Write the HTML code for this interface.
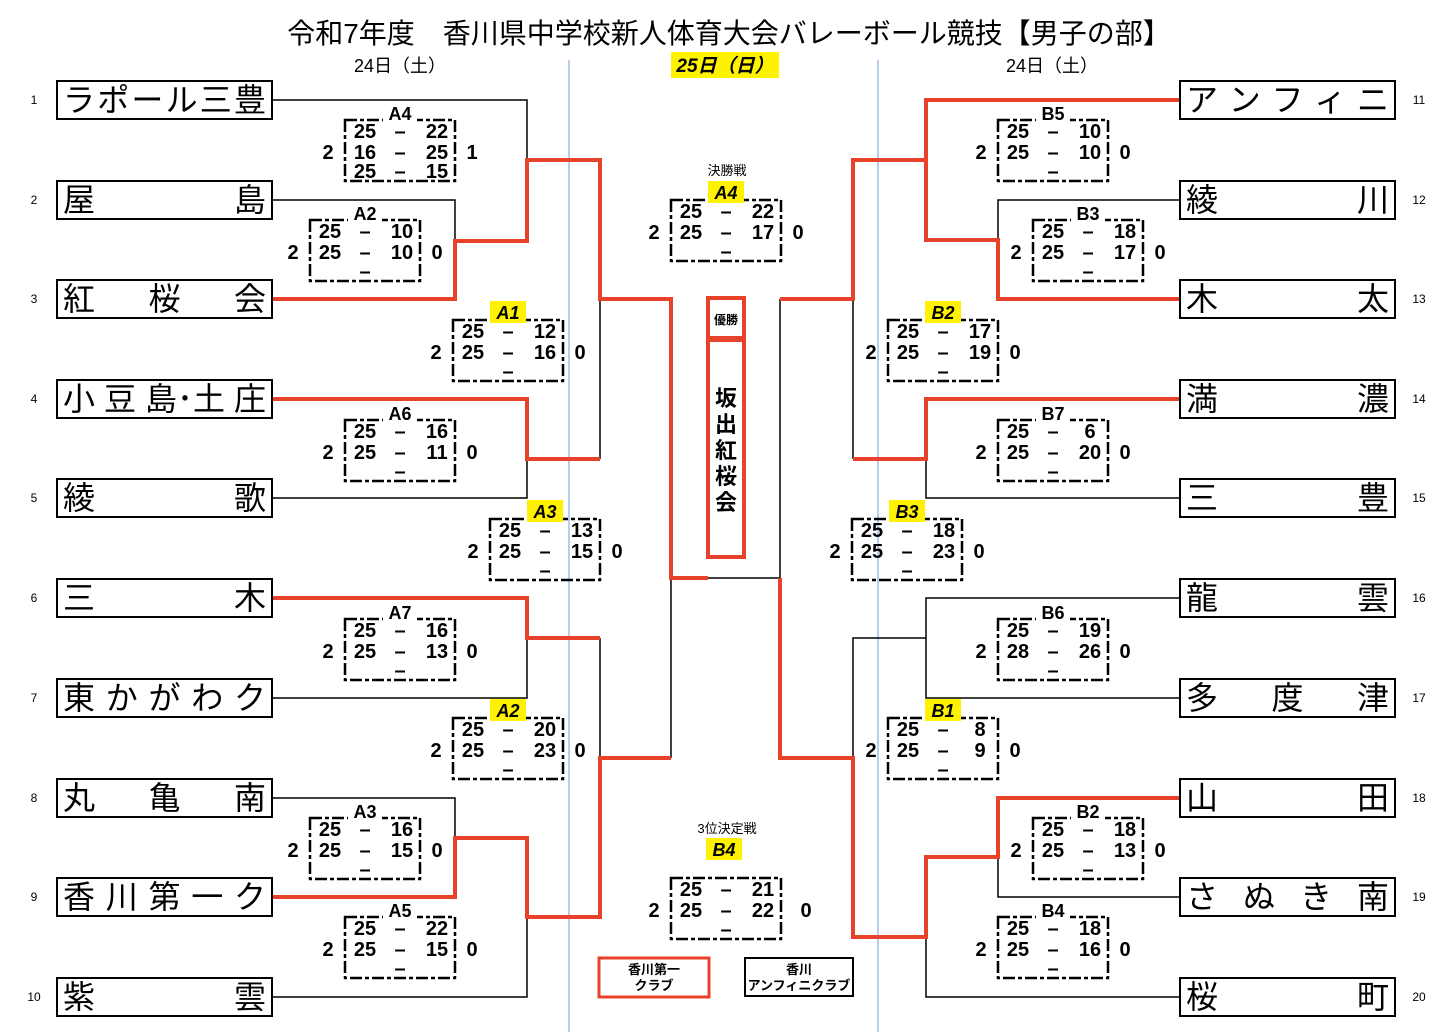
<!DOCTYPE html>
<html><head><meta charset="utf-8">
<style>
html,body{margin:0;padding:0;background:#fff;}
body{width:1449px;height:1035px;position:relative;overflow:hidden;font-family:"Liberation Sans","Noto Sans CJK JP",sans-serif;}
svg{position:absolute;left:0;top:0;}
.t{position:absolute;width:213px;height:36px;border:2px solid #000;display:flex;justify-content:space-between;align-items:center;padding:0 5px;box-sizing:content-box;font-size:32px;line-height:36px;color:#000;background:#fff;}
.t span{display:block}
.t.l{left:56px;width:203px}
.t.r{left:1179px;width:203px}
.n{position:absolute;font-size:12px;width:20px;text-align:center}
.s{font:bold 20px "Liberation Sans",sans-serif;}
.lb{font:bold 18px "Liberation Sans",sans-serif;}
.ly{font:italic bold 18px "Liberation Sans",sans-serif;}
</style></head><body>
<svg width="1449" height="1035" viewBox="0 0 1449 1035">
<defs>
<g id="box"><rect x="0" y="0" width="110" height="61" fill="none" stroke="#000" stroke-width="2.5" stroke-dasharray="12,3,4,3"/></g>
</defs>
<line x1="569" y1="60" x2="569" y2="1032" stroke="#9dbde3" stroke-width="1.5"/>
<line x1="878" y1="60" x2="878" y2="1032" stroke="#9dbde3" stroke-width="1.5"/>
<text x="729" y="43" text-anchor="middle" font-size="28" font-family="Liberation Sans, Noto Sans CJK JP, sans-serif">令和7年度　香川県中学校新人体育大会バレーボール競技【男子の部】</text>
<text x="400" y="72" text-anchor="middle" font-size="18" font-family="Liberation Sans, Noto Sans CJK JP, sans-serif">24日（土）</text>
<text x="1052" y="72" text-anchor="middle" font-size="18" font-family="Liberation Sans, Noto Sans CJK JP, sans-serif">24日（土）</text>
<rect x="671" y="52" width="108" height="26" fill="#fff200"/>
<text x="725" y="72" text-anchor="middle" font-size="19" font-weight="bold" font-style="italic" font-family="Liberation Sans, Noto Sans CJK JP, sans-serif">25日（日）</text>
<g fill="none" stroke="#000" stroke-width="1.5">
<path d="M273 100H527V160M273 200H455V241M600 299V459M273 498H527V459M273 698H527V638M600 638V758M273 798H455V838M273 997H527V917M671 578V758M708 578H780"/>
<path d="M1179 200H998V240M853 299V459M1179 498H926V459M1179 598H926V698H1179M926 638H853V758M1179 897H998V857M1179 997H926V937M780 299V578"/>
</g>
<g fill="none" stroke="#e8432a" stroke-width="4" stroke-linejoin="miter">
<path d="M273 299H455V241H527V160H600V299H671V578H708"/>
<path d="M273 399H527V459H600"/>
<path d="M273 598H527V638H600"/>
<path d="M273 897H455V838H527V917H600V758H671"/>
<path d="M1179 100H926V240H998V299H1179"/>
<path d="M926 160H853V299H780"/>
<path d="M1179 399H926V459H853"/>
<path d="M1179 798H998V857H926V937H853V758H780V578"/>
</g>
<g class="s" text-anchor="middle">
<g transform="translate(345,120)"><use href="#box"/><rect x="38" y="-14" width="34" height="18" fill="#fff"/><text x="55" y="0" class="lb">A4</text><text x="-17" y="39">2</text><text x="127" y="39">1</text><text x="20" y="18">25</text><text x="55" y="18">–</text><text x="92" y="18">22</text><text x="20" y="39">16</text><text x="55" y="39">–</text><text x="92" y="39">25</text><text x="20" y="58">25</text><text x="55" y="58">–</text><text x="92" y="58">15</text></g>
<g transform="translate(310,220)"><use href="#box"/><rect x="38" y="-14" width="34" height="18" fill="#fff"/><text x="55" y="0" class="lb">A2</text><text x="-17" y="39">2</text><text x="127" y="39">0</text><text x="20" y="18">25</text><text x="55" y="18">–</text><text x="92" y="18">10</text><text x="20" y="39">25</text><text x="55" y="39">–</text><text x="92" y="39">10</text><text x="55" y="58">–</text></g>
<g transform="translate(453,320)"><use href="#box"/><rect x="37" y="-19" width="36" height="22" fill="#fff200"/><text x="55" y="-1" class="ly">A1</text><text x="-17" y="39">2</text><text x="127" y="39">0</text><text x="20" y="18">25</text><text x="55" y="18">–</text><text x="92" y="18">12</text><text x="20" y="39">25</text><text x="55" y="39">–</text><text x="92" y="39">16</text><text x="55" y="58">–</text></g>
<g transform="translate(345,420)"><use href="#box"/><rect x="38" y="-14" width="34" height="18" fill="#fff"/><text x="55" y="0" class="lb">A6</text><text x="-17" y="39">2</text><text x="127" y="39">0</text><text x="20" y="18">25</text><text x="55" y="18">–</text><text x="92" y="18">16</text><text x="20" y="39">25</text><text x="55" y="39">–</text><text x="92" y="39">11</text><text x="55" y="58">–</text></g>
<g transform="translate(490,519)"><use href="#box"/><rect x="37" y="-19" width="36" height="22" fill="#fff200"/><text x="55" y="-1" class="ly">A3</text><text x="-17" y="39">2</text><text x="127" y="39">0</text><text x="20" y="18">25</text><text x="55" y="18">–</text><text x="92" y="18">13</text><text x="20" y="39">25</text><text x="55" y="39">–</text><text x="92" y="39">15</text><text x="55" y="58">–</text></g>
<g transform="translate(345,619)"><use href="#box"/><rect x="38" y="-14" width="34" height="18" fill="#fff"/><text x="55" y="0" class="lb">A7</text><text x="-17" y="39">2</text><text x="127" y="39">0</text><text x="20" y="18">25</text><text x="55" y="18">–</text><text x="92" y="18">16</text><text x="20" y="39">25</text><text x="55" y="39">–</text><text x="92" y="39">13</text><text x="55" y="58">–</text></g>
<g transform="translate(453,718)"><use href="#box"/><rect x="37" y="-19" width="36" height="22" fill="#fff200"/><text x="55" y="-1" class="ly">A2</text><text x="-17" y="39">2</text><text x="127" y="39">0</text><text x="20" y="18">25</text><text x="55" y="18">–</text><text x="92" y="18">20</text><text x="20" y="39">25</text><text x="55" y="39">–</text><text x="92" y="39">23</text><text x="55" y="58">–</text></g>
<g transform="translate(310,818)"><use href="#box"/><rect x="38" y="-14" width="34" height="18" fill="#fff"/><text x="55" y="0" class="lb">A3</text><text x="-17" y="39">2</text><text x="127" y="39">0</text><text x="20" y="18">25</text><text x="55" y="18">–</text><text x="92" y="18">16</text><text x="20" y="39">25</text><text x="55" y="39">–</text><text x="92" y="39">15</text><text x="55" y="58">–</text></g>
<g transform="translate(345,917)"><use href="#box"/><rect x="38" y="-14" width="34" height="18" fill="#fff"/><text x="55" y="0" class="lb">A5</text><text x="-17" y="39">2</text><text x="127" y="39">0</text><text x="20" y="18">25</text><text x="55" y="18">–</text><text x="92" y="18">22</text><text x="20" y="39">25</text><text x="55" y="39">–</text><text x="92" y="39">15</text><text x="55" y="58">–</text></g>
<text x="727" y="175" font-size="13" font-weight="normal" font-family="Liberation Sans, Noto Sans CJK JP, sans-serif">決勝戦</text>
<g transform="translate(671,200)"><use href="#box"/><rect x="37" y="-19" width="36" height="22" fill="#fff200"/><text x="55" y="-1" class="ly">A4</text><text x="-17" y="39">2</text><text x="127" y="39">0</text><text x="20" y="18">25</text><text x="55" y="18">–</text><text x="92" y="18">22</text><text x="20" y="39">25</text><text x="55" y="39">–</text><text x="92" y="39">17</text><text x="55" y="58">–</text></g>
<text x="727" y="833" font-size="13" font-weight="normal" font-family="Liberation Sans, Noto Sans CJK JP, sans-serif">3位決定戦</text>
<g transform="translate(671,878)"><use href="#box"/><rect x="35" y="-40" width="36" height="22" fill="#fff200"/><text x="53" y="-22" class="ly">B4</text><text x="-17" y="39">2</text><text x="135" y="39">0</text><text x="20" y="18">25</text><text x="55" y="18">–</text><text x="92" y="18">21</text><text x="20" y="39">25</text><text x="55" y="39">–</text><text x="92" y="39">22</text><text x="55" y="58">–</text></g>
<g transform="translate(998,120)"><use href="#box"/><rect x="38" y="-14" width="34" height="18" fill="#fff"/><text x="55" y="0" class="lb">B5</text><text x="-17" y="39">2</text><text x="127" y="39">0</text><text x="20" y="18">25</text><text x="55" y="18">–</text><text x="92" y="18">10</text><text x="20" y="39">25</text><text x="55" y="39">–</text><text x="92" y="39">10</text><text x="55" y="58">–</text></g>
<g transform="translate(1033,220)"><use href="#box"/><rect x="38" y="-14" width="34" height="18" fill="#fff"/><text x="55" y="0" class="lb">B3</text><text x="-17" y="39">2</text><text x="127" y="39">0</text><text x="20" y="18">25</text><text x="55" y="18">–</text><text x="92" y="18">18</text><text x="20" y="39">25</text><text x="55" y="39">–</text><text x="92" y="39">17</text><text x="55" y="58">–</text></g>
<g transform="translate(888,320)"><use href="#box"/><rect x="37" y="-19" width="36" height="22" fill="#fff200"/><text x="55" y="-1" class="ly">B2</text><text x="-17" y="39">2</text><text x="127" y="39">0</text><text x="20" y="18">25</text><text x="55" y="18">–</text><text x="92" y="18">17</text><text x="20" y="39">25</text><text x="55" y="39">–</text><text x="92" y="39">19</text><text x="55" y="58">–</text></g>
<g transform="translate(998,420)"><use href="#box"/><rect x="38" y="-14" width="34" height="18" fill="#fff"/><text x="55" y="0" class="lb">B7</text><text x="-17" y="39">2</text><text x="127" y="39">0</text><text x="20" y="18">25</text><text x="55" y="18">–</text><text x="92" y="18">6</text><text x="20" y="39">25</text><text x="55" y="39">–</text><text x="92" y="39">20</text><text x="55" y="58">–</text></g>
<g transform="translate(852,519)"><use href="#box"/><rect x="37" y="-19" width="36" height="22" fill="#fff200"/><text x="55" y="-1" class="ly">B3</text><text x="-17" y="39">2</text><text x="127" y="39">0</text><text x="20" y="18">25</text><text x="55" y="18">–</text><text x="92" y="18">18</text><text x="20" y="39">25</text><text x="55" y="39">–</text><text x="92" y="39">23</text><text x="55" y="58">–</text></g>
<g transform="translate(998,619)"><use href="#box"/><rect x="38" y="-14" width="34" height="18" fill="#fff"/><text x="55" y="0" class="lb">B6</text><text x="-17" y="39">2</text><text x="127" y="39">0</text><text x="20" y="18">25</text><text x="55" y="18">–</text><text x="92" y="18">19</text><text x="20" y="39">28</text><text x="55" y="39">–</text><text x="92" y="39">26</text><text x="55" y="58">–</text></g>
<g transform="translate(888,718)"><use href="#box"/><rect x="37" y="-19" width="36" height="22" fill="#fff200"/><text x="55" y="-1" class="ly">B1</text><text x="-17" y="39">2</text><text x="127" y="39">0</text><text x="20" y="18">25</text><text x="55" y="18">–</text><text x="92" y="18">8</text><text x="20" y="39">25</text><text x="55" y="39">–</text><text x="92" y="39">9</text><text x="55" y="58">–</text></g>
<g transform="translate(1033,818)"><use href="#box"/><rect x="38" y="-14" width="34" height="18" fill="#fff"/><text x="55" y="0" class="lb">B2</text><text x="-17" y="39">2</text><text x="127" y="39">0</text><text x="20" y="18">25</text><text x="55" y="18">–</text><text x="92" y="18">18</text><text x="20" y="39">25</text><text x="55" y="39">–</text><text x="92" y="39">13</text><text x="55" y="58">–</text></g>
<g transform="translate(998,917)"><use href="#box"/><rect x="38" y="-14" width="34" height="18" fill="#fff"/><text x="55" y="0" class="lb">B4</text><text x="-17" y="39">2</text><text x="127" y="39">0</text><text x="20" y="18">25</text><text x="55" y="18">–</text><text x="92" y="18">18</text><text x="20" y="39">25</text><text x="55" y="39">–</text><text x="92" y="39">16</text><text x="55" y="58">–</text></g>
</g>
<rect x="708" y="298" width="36" height="40" fill="#fff" stroke="#e8432a" stroke-width="4"/>
<rect x="708" y="340" width="36" height="217" fill="#fff" stroke="#e8432a" stroke-width="4"/>
<text x="726" y="324" text-anchor="middle" font-size="12" font-weight="bold" font-family="Liberation Sans, Noto Sans CJK JP, sans-serif">優勝</text>
<g font-size="22" font-weight="bold" text-anchor="middle" font-family="Liberation Sans, Noto Sans CJK JP, sans-serif">
<text x="726" y="406">坂</text><text x="726" y="432">出</text><text x="726" y="458">紅</text><text x="726" y="484">桜</text><text x="726" y="510">会</text></g>
<rect x="599" y="958" width="110" height="39" fill="#fff" stroke="#e8432a" stroke-width="3"/>
<rect x="745" y="958" width="108" height="38" fill="#fff" stroke="#000" stroke-width="2"/>
<g font-size="13" font-weight="bold" text-anchor="middle" font-family="Liberation Sans, Noto Sans CJK JP, sans-serif">
<text x="654" y="974">香川第一</text><text x="654" y="990">クラブ</text>
<text x="799" y="974">香川</text><text x="799" y="990">アンフィニクラブ</text></g>
</svg>

<div class="n" style="left:24px;top:93px">1</div>
<div class="n" style="left:24px;top:193px">2</div>
<div class="n" style="left:24px;top:292px">3</div>
<div class="n" style="left:24px;top:392px">4</div>
<div class="n" style="left:24px;top:491px">5</div>
<div class="n" style="left:24px;top:591px">6</div>
<div class="n" style="left:24px;top:691px">7</div>
<div class="n" style="left:24px;top:791px">8</div>
<div class="n" style="left:24px;top:890px">9</div>
<div class="n" style="left:24px;top:990px">10</div>
<div class="n" style="left:1409px;top:93px">11</div>
<div class="n" style="left:1409px;top:193px">12</div>
<div class="n" style="left:1409px;top:292px">13</div>
<div class="n" style="left:1409px;top:392px">14</div>
<div class="n" style="left:1409px;top:491px">15</div>
<div class="n" style="left:1409px;top:591px">16</div>
<div class="n" style="left:1409px;top:691px">17</div>
<div class="n" style="left:1409px;top:791px">18</div>
<div class="n" style="left:1409px;top:890px">19</div>
<div class="n" style="left:1409px;top:990px">20</div>

<div class="t l" style="top:80px"><span>ラ</span><span>ポ</span><span>ー</span><span>ル</span><span>三</span><span>豊</span></div>
<div class="t l" style="top:180px"><span>屋</span><span>島</span></div>
<div class="t l" style="top:279px"><span>紅</span><span>桜</span><span>会</span></div>
<div class="t l" style="top:379px"><span>小</span><span>豆</span><span>島･土</span><span>庄</span></div>
<div class="t l" style="top:478px"><span>綾</span><span>歌</span></div>
<div class="t l" style="top:578px"><span>三</span><span>木</span></div>
<div class="t l" style="top:678px"><span>東</span><span>か</span><span>が</span><span>わ</span><span>ク</span></div>
<div class="t l" style="top:778px"><span>丸</span><span>亀</span><span>南</span></div>
<div class="t l" style="top:877px"><span>香</span><span>川</span><span>第</span><span>一</span><span>ク</span></div>
<div class="t l" style="top:977px"><span>紫</span><span>雲</span></div>

<div class="t r" style="top:80px"><span>ア</span><span>ン</span><span>フ</span><span>ィ</span><span>ニ</span></div>
<div class="t r" style="top:180px"><span>綾</span><span>川</span></div>
<div class="t r" style="top:279px"><span>木</span><span>太</span></div>
<div class="t r" style="top:379px"><span>満</span><span>濃</span></div>
<div class="t r" style="top:478px"><span>三</span><span>豊</span></div>
<div class="t r" style="top:578px"><span>龍</span><span>雲</span></div>
<div class="t r" style="top:678px"><span>多</span><span>度</span><span>津</span></div>
<div class="t r" style="top:778px"><span>山</span><span>田</span></div>
<div class="t r" style="top:877px"><span>さ</span><span>ぬ</span><span>き</span><span>南</span></div>
<div class="t r" style="top:977px"><span>桜</span><span>町</span></div>
</body></html>
